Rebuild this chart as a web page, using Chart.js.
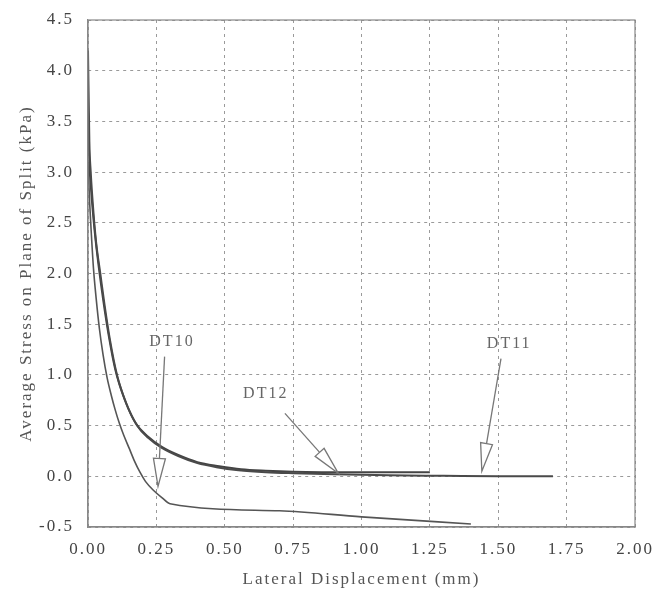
<!DOCTYPE html>
<html>
<head>
<meta charset="utf-8">
<script src="https://cdn.jsdelivr.net/npm/chart.js@4.4.1/dist/chart.umd.min.js"></script>
<style>
  html, body { margin: 0; padding: 0; background: #fff; }
  #wrap { width: 657px; height: 594px; }
</style>
</head>
<body>
<div id="wrap"><canvas id="stressChart"></canvas></div>
<script>
// lateral displacement (mm) / average stress (kPa)
const dt11X = [0.0, 0.005, 0.01, 0.02, 0.03, 0.045, 0.06, 0.08, 0.106, 0.14, 0.18, 0.22, 0.27, 0.33, 0.4, 0.47, 0.55, 0.65, 0.75, 0.9, 1.1, 1.3, 1.5, 1.7];
const dt11Y = [4.2, 3.3, 3.0, 2.6, 2.3, 2.0, 1.7, 1.35, 1.0, 0.72, 0.5, 0.38, 0.28, 0.2, 0.13, 0.09, 0.06, 0.04, 0.03, 0.02, 0.01, 0.005, 0.0, 0.0];

const dt12X = [0.0, 0.005, 0.012, 0.025, 0.04, 0.055, 0.075, 0.1, 0.135, 0.175, 0.22, 0.27, 0.33, 0.4, 0.48, 0.56, 0.65, 0.75, 1.0, 1.25];
const dt12Y = [3.6, 3.1, 2.8, 2.4, 2.05, 1.75, 1.4, 1.05, 0.75, 0.52, 0.39, 0.29, 0.21, 0.14, 0.1, 0.07, 0.055, 0.045, 0.04, 0.04];

const dt10X = [0.0, 0.006, 0.012, 0.02, 0.03, 0.042, 0.055, 0.07, 0.085, 0.1, 0.115, 0.13, 0.15, 0.17, 0.19, 0.21, 0.24, 0.27, 0.3, 0.7, 1.0, 1.4];
const dt10Y = [3.1, 2.7, 2.4, 2.05, 1.75, 1.45, 1.2, 0.97, 0.8, 0.65, 0.52, 0.41, 0.28, 0.15, 0.04, -0.05, -0.14, -0.21, -0.27, -0.34, -0.4, -0.47];

// callout labels: text position, arrow start and arrow tip (data units)
const labelNames = ["DT10", "DT12", "DT11"];
const labelAt = [[0.307, 1.33], [0.65, 0.81], [1.54, 1.31]];
const arrowFrom = [[0.28, 1.18], [0.72, 0.62], [1.51, 1.16]];
const arrowTo = [[0.256, -0.1], [0.915, 0.03], [1.44, 0.05]];

const serif = "'Liberation Serif', 'DejaVu Serif', serif";

function toPoints(xs, ys) {
  return xs.map((x, i) => ({ x: x, y: ys[i] }));
}

const calloutPlugin = {
  id: "callouts",
  afterDatasetsDraw(chart) {
    const { ctx, scales } = chart;
    const sx = scales.x, sy = scales.y;
    ctx.save();
    labelNames.forEach((name, i) => {
      ctx.fillStyle = "#666";
      ctx.font = "16px " + serif;
      ctx.textAlign = "center";
      ctx.textBaseline = "middle";
      ctx.fillText(name, sx.getPixelForValue(labelAt[i][0]), sy.getPixelForValue(labelAt[i][1]));

      const x0 = sx.getPixelForValue(arrowFrom[i][0]);
      const y0 = sy.getPixelForValue(arrowFrom[i][1]);
      const x1 = sx.getPixelForValue(arrowTo[i][0]);
      const y1 = sy.getPixelForValue(arrowTo[i][1]);
      const ang = Math.atan2(y1 - y0, x1 - x0);
      const headLen = 28, headW = 6;
      const bx = x1 - headLen * Math.cos(ang);
      const by = y1 - headLen * Math.sin(ang);
      const nx = -Math.sin(ang) * headW, ny = Math.cos(ang) * headW;

      ctx.strokeStyle = "#777";
      ctx.lineWidth = 1.3;
      ctx.beginPath();
      ctx.moveTo(x0, y0);
      ctx.lineTo(bx, by);
      ctx.stroke();

      ctx.beginPath();
      ctx.moveTo(x1, y1);
      ctx.lineTo(bx + nx, by + ny);
      ctx.lineTo(bx - nx, by - ny);
      ctx.closePath();
      ctx.fillStyle = "#fff";
      ctx.fill();
      ctx.stroke();
    });
    ctx.restore();
  },
};

const ctx = document.getElementById("stressChart").getContext("2d");

const gridOpts = {
  color: "#9a9a9a",
  lineWidth: 1,
  tickLength: 0,
};

new Chart(ctx, {
  type: "scatter",
  data: {
    datasets: [
      {
        label: "DT11",
        data: toPoints(dt11X, dt11Y),
        showLine: true,
        borderColor: "#4a4a4a",
        borderWidth: 2,
        pointRadius: 0,
        cubicInterpolationMode: "monotone",
      },
      {
        label: "DT12",
        data: toPoints(dt12X, dt12Y),
        showLine: true,
        borderColor: "#444",
        borderWidth: 2,
        pointRadius: 0,
        cubicInterpolationMode: "monotone",
      },
      {
        label: "DT10",
        data: toPoints(dt10X, dt10Y),
        showLine: true,
        borderColor: "#555",
        borderWidth: 1.6,
        pointRadius: 0,
        cubicInterpolationMode: "monotone",
      },
    ],
  },
  options: {
    responsive: true,
    maintainAspectRatio: false,
    animation: false,
    layout: { padding: { top: 20, right: 22, left: 12, bottom: 0 } },
    plugins: {
      legend: { display: false },
      tooltip: { enabled: false },
    },
    scales: {
      x: {
        type: "linear",
        min: 0,
        max: 2,
        border: { display: true, color: "#888", width: 1.2, dash: [3, 4] },
        grid: gridOpts,
        ticks: {
          stepSize: 0.25,
          padding: 12,
          color: "#444",
          font: { family: serif, size: 17 },
          callback: (v) => v.toFixed(2),
        },
        title: {
          display: true,
          text: "Lateral Displacement (mm)",
          color: "#555",
          font: { family: serif, size: 17 },
          padding: { top: 4 },
        },
        afterFit: (scale) => {
          scale.height = 67;
          scale.paddingLeft = 0;
          scale.paddingRight = 0;
        },
      },
      y: {
        type: "linear",
        min: -0.5,
        max: 4.5,
        border: { display: true, color: "#888", width: 1.2, dash: [3, 4] },
        grid: gridOpts,
        ticks: {
          stepSize: 0.5,
          padding: 14,
          color: "#444",
          font: { family: serif, size: 17 },
          callback: (v) => v.toFixed(1),
        },
        title: {
          display: true,
          text: "Average Stress on Plane of Split (kPa)",
          color: "#555",
          font: { family: serif, size: 17 },
          padding: { bottom: 2 },
        },
        afterFit: (scale) => {
          scale.width = 76;
          scale.paddingTop = 0;
          scale.paddingBottom = 0;
        },
      },
    },
  },
  plugins: [
    calloutPlugin,
    {
      id: "spacing",
      beforeDraw(chart) {
        chart.ctx.letterSpacing = "2px";
      },
    },
    {
      id: "frame",
      afterDraw(chart) {
        const a = chart.chartArea;
        const c = chart.ctx;
        c.save();
        c.strokeStyle = "#888";
        c.lineWidth = 1.2;
        c.setLineDash([]);
        c.strokeRect(a.left, a.top, a.right - a.left, a.bottom - a.top);
        c.restore();
      },
    },
  ],
});
</script>
</body>
</html>
